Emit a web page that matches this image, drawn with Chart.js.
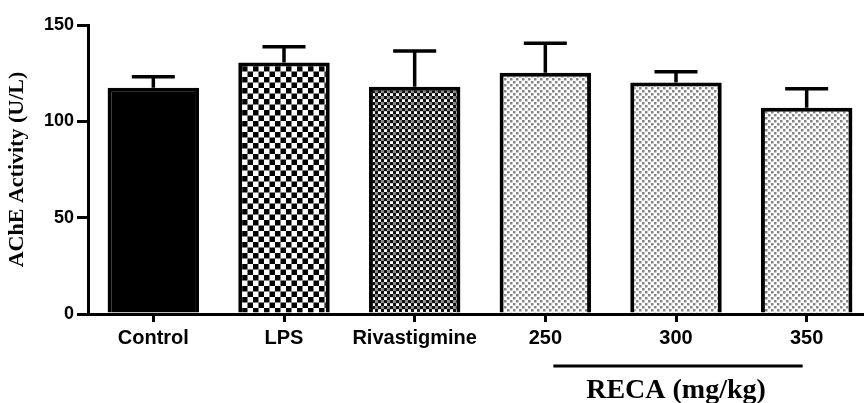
<!DOCTYPE html>
<html>
<head>
<meta charset="utf-8">
<script src="https://cdn.jsdelivr.net/npm/chart.js@4/dist/chart.umd.min.js"></script>
<style>
  html, body { margin: 0; padding: 0; background: #fff; overflow: hidden; }
  #wrap { width: 864px; height: 403px; overflow: hidden; }
</style>
</head>
<body>
<div id="wrap"><canvas id="ache" width="880" height="403"></canvas></div>
<script>
const groups = ["Control", "LPS", "Rivastigmine", "250", "300", "350"];
const acheMean = [117.4, 130.6, 118.0, 125.2, 120.2, 107.0];
const acheSem = [5.7, 8.1, 18.5, 15.3, 5.5, 9.9];
const yTicks = [0, 50, 100, 150];
const doseGroupLabel = "RECA (mg/kg)";

// small tiles used as bar fills
function makeTile(size, draw) {
    const c = document.createElement("canvas");
    c.width = size;
    c.height = size;
    const g = c.getContext("2d");
    g.fillStyle = "#fff";
    g.fillRect(0, 0, size, size);
    draw(g);
    return document.getElementById("ache").getContext("2d").createPattern(c, "repeat");
}

const coarseChecker = makeTile(11, g => {
    g.fillStyle = "#000";
    g.fillRect(0, 0, 5.5, 5.5);
    g.fillRect(5.5, 5.5, 5.5, 5.5);
});
const fineChecker = makeTile(6, g => {
    g.fillStyle = "#111";
    g.fillRect(0, 0, 3.2, 3.2);
    g.fillRect(3, 3, 3.2, 3.2);
    g.fillStyle = "#888";
    g.fillRect(3.2, 0, 2.8, 3);
});
const dotted = makeTile(6, g => {
    g.fillStyle = "#858585";
    g.fillRect(0, 0, 2.5, 2.5);
    g.fillRect(3, 3, 2.5, 2.5);
});

const fills = ["#000", coarseChecker, fineChecker, dotted, dotted, dotted];

const errorBars = {
    id: "errorBars",
    afterDatasetsDraw(chart) {
        const ctx = chart.ctx;
        const y = chart.scales.y;
        const meta = chart.getDatasetMeta(0);
        ctx.save();
        ctx.strokeStyle = "#000";
        ctx.lineWidth = 3.5;
        meta.data.forEach((bar, i) => {
            const top = y.getPixelForValue(acheMean[i]);
            const cap = y.getPixelForValue(acheMean[i] + acheSem[i]);
            ctx.beginPath();
            ctx.moveTo(bar.x, top);
            ctx.lineTo(bar.x, cap);
            ctx.moveTo(bar.x - 21.5, cap);
            ctx.lineTo(bar.x + 21.5, cap);
            ctx.stroke();
        });
        ctx.restore();
    }
};

// bracket under the three dose groups
const doseBracket = {
    id: "doseBracket",
    afterDraw(chart) {
        const ctx = chart.ctx;
        const x = chart.scales.x;
        const x0 = x.getPixelForValue(3) + 8;
        const x1 = x.getPixelForValue(5) - 4;
        ctx.save();
        ctx.strokeStyle = "#000";
        ctx.lineWidth = 3;
        ctx.beginPath();
        ctx.moveTo(x0, 366);
        ctx.lineTo(x1, 366);
        ctx.stroke();
        ctx.fillStyle = "#000";
        ctx.font = "bold 28px 'Liberation Serif', 'Times New Roman', serif";
        ctx.textAlign = "center";
        ctx.textBaseline = "alphabetic";
        ctx.fillText(doseGroupLabel, x.getPixelForValue(4), 398);
        ctx.restore();
    }
};

new Chart(document.getElementById("ache"), {
    type: "bar",
    data: {
        labels: groups,
        datasets: [{
            data: acheMean,
            backgroundColor: fills,
            borderColor: "#000",
            borderWidth: 4,
            borderSkipped: "bottom",
            barPercentage: 0.7,
            categoryPercentage: 1.0
        }]
    },
    options: {
        responsive: false,
        animation: false,
        layout: { padding: { top: 25, right: 8, left: 0, bottom: 0 } },
        plugins: {
            legend: { display: false },
            tooltip: { enabled: false }
        },
        scales: {
            x: {
                offset: true,
                grid: {
                    display: true,
                    offset: false,
                    drawOnChartArea: false,
                    drawTicks: true,
                    tickLength: 8,
                    lineWidth: 3,
                    color: "#000"
                },
                border: { display: true, width: 3, color: "#000" },
                ticks: {
                    color: "#000",
                    padding: 4,
                    maxRotation: 0,
                    font: { family: "'Liberation Sans', Arial, sans-serif", size: 20, weight: "bold" }
                },
                afterFit(scale) { scale.height = 89; }
            },
            y: {
                min: 0,
                max: 150,
                afterBuildTicks(scale) { scale.ticks = yTicks.map(v => ({ value: v })); },
                grid: {
                    display: true,
                    drawOnChartArea: false,
                    drawTicks: true,
                    tickLength: 11,
                    lineWidth: 3,
                    color: "#000"
                },
                border: { display: true, width: 3, color: "#000" },
                ticks: {
                    color: "#000",
                    padding: 3,
                    font: { family: "'Liberation Sans', Arial, sans-serif", size: 18, weight: "bold" }
                },
                title: {
                    display: true,
                    text: "AChE Activity (U/L)",
                    color: "#000",
                    padding: { top: 4, bottom: 0 },
                    font: { family: "'Liberation Serif', 'Times New Roman', serif", size: 22, weight: "bold" }
                },
                afterFit(scale) { scale.width = 88; }
            }
        }
    },
    plugins: [errorBars, doseBracket]
});
</script>
</body>
</html>
